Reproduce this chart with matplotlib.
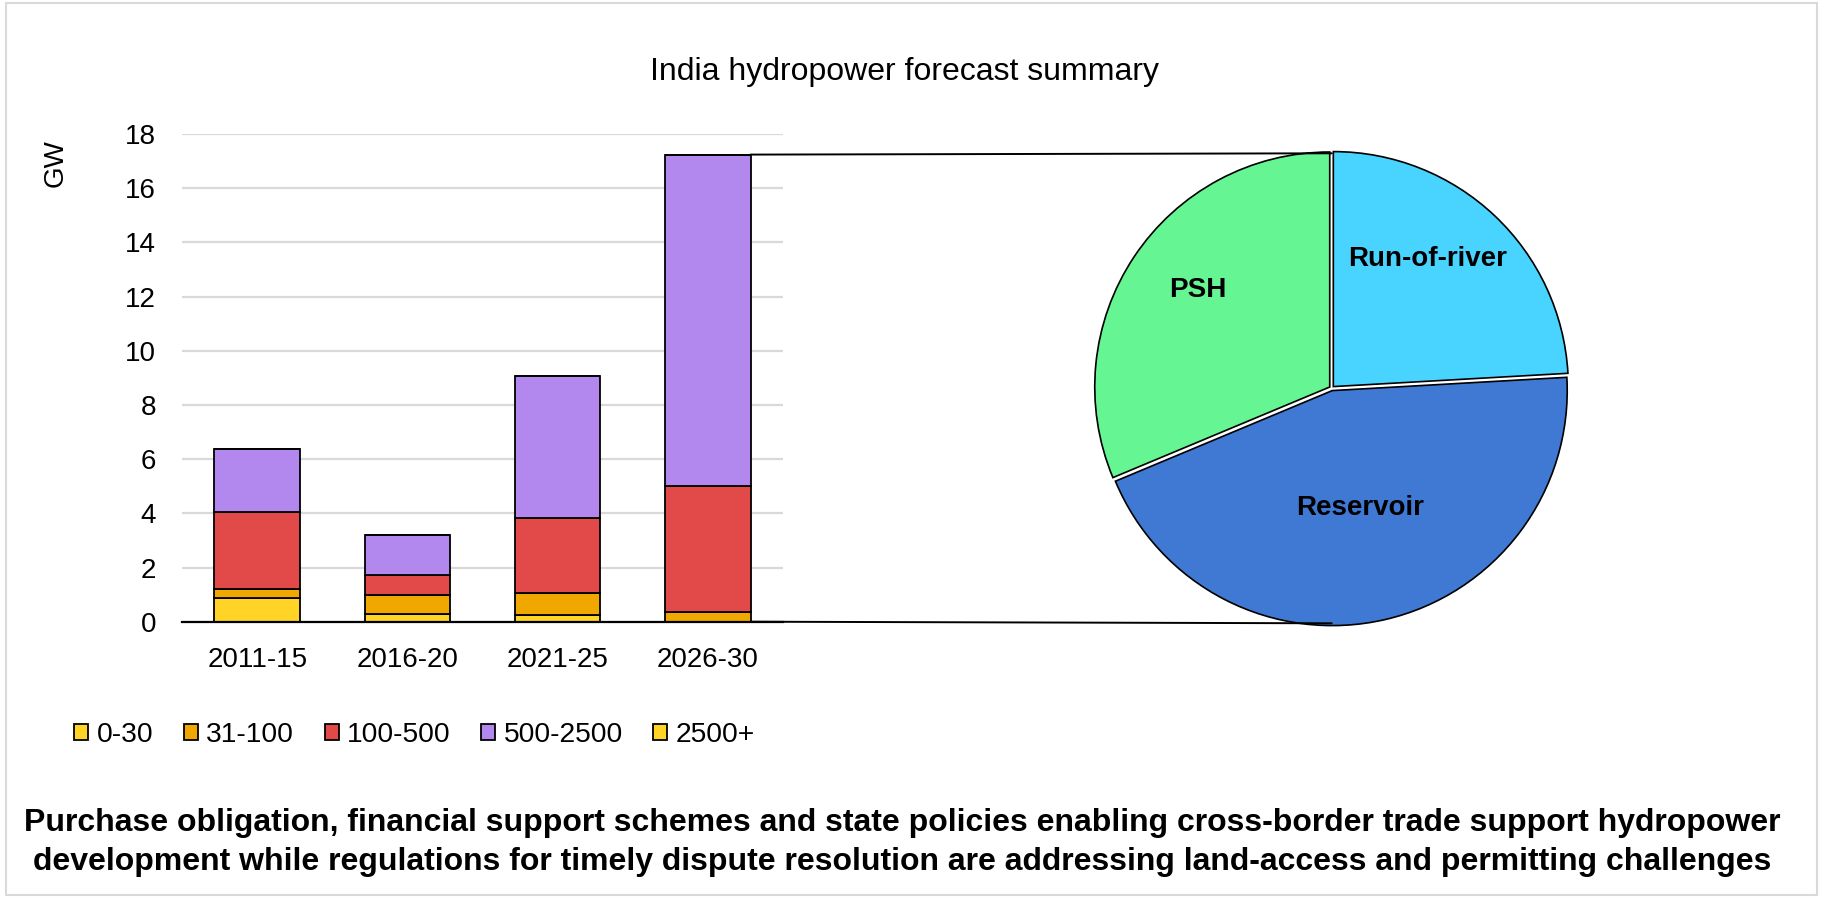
import matplotlib
matplotlib.use("Agg")
import matplotlib.pyplot as plt
from matplotlib.patches import ConnectionPatch, Rectangle

plt.rcParams['font.family'] = ['Liberation Sans', 'DejaVu Sans']

# bar data (GW)
categories = ['2011-15', '2016-20', '2021-25', '2026-30']
series_names = ['0-30', '31-100', '100-500', '500-2500', '2500+']
s_0_30 = [0.88, 0.28, 0.24, 0.0]
s_31_100 = [0.34, 0.72, 0.82, 0.35]
s_100_500 = [2.83, 0.72, 2.78, 4.67]
s_500_2500 = [2.32, 1.49, 5.21, 12.22]
s_2500 = [0.0, 0.0, 0.0, 0.0]
bar_colors = ['#FFD426', '#F0A800', '#E24A4A', '#B388EE', '#FFD426']

# pie data (share of 2026-30, %)
pie_labels = ['Run-of-river', 'Reservoir', 'PSH']
pie_values = [24.1, 44.6, 31.3]
pie_colors = ['#48D4FF', '#3F79D3', '#66F593']
pie_label_pos = [(0.41, 0.55), (0.12, -0.51), (-0.57, 0.42)]

title = 'India hydropower forecast summary'
footer = ['Purchase obligation, financial support schemes and state policies enabling cross-border trade support hydropower',
          'development while regulations for timely dispute resolution are addressing land-access and permitting challenges']

W, H = 1825, 898
fig = plt.figure(figsize=(W / 100, H / 100), dpi=100)

# bar chart
ax = fig.add_axes([182.3 / W, 1 - 621.7 / H, 600.4 / W, 487.7 / H])
x = list(range(len(categories)))
bw = 0.571
bottom = [0.0] * len(categories)
for name, vals, col in zip(series_names, [s_0_30, s_31_100, s_100_500, s_500_2500, s_2500], bar_colors):
    ax.bar(x, vals, bw, bottom=bottom, color=col, edgecolor='black', linewidth=1.3,
           label=name, zorder=3)
    bottom = [b + v for b, v in zip(bottom, vals)]

ax.set_xlim(-0.5, 3.5)
ax.set_ylim(0, 18)
ax.set_yticks(range(0, 19, 2))
ax.set_xticks(x)
ax.set_xticklabels(categories)
ax.tick_params(axis='both', length=0, labelsize=20)
ax.tick_params(axis='y', pad=19)
ax.tick_params(axis='x', pad=18)
ax.grid(axis='y', color='#D9D9D9', linewidth=1.6, zorder=0)
for s in ['top', 'right', 'left']:
    ax.spines[s].set_visible(False)
ax.spines['bottom'].set_linewidth(1.6)
ax.spines['bottom'].set_zorder(4)

fig.text(56 / W, 1 - 163 / H, 'GW', rotation=90, fontsize=20, ha='center', va='center')

# pie chart
r = 235
pax = fig.add_axes([(1331.7 - r) / W, 1 - (388.3 + r) / H, 2 * r / W, 2 * r / H])
wedges, _ = pax.pie(pie_values, colors=pie_colors, startangle=90, counterclock=False,
                    explode=[0.01, 0.01, 0.01],
                    wedgeprops=dict(edgecolor='black', linewidth=1.2))
for w in wedges:
    w.set_clip_on(False)
for lab, (lx, ly) in zip(pie_labels, pie_label_pos):
    pax.text(lx, ly, lab, fontsize=20, fontweight='bold', ha='center', va='center')
pax.set_xlim(-1, 1)
pax.set_ylim(-1, 1)
pax.set_aspect('auto')
pax.axis('off')

# lines joining the last bar to the pie
xr = 3 + bw / 2
total_last = bottom[-1]
for yb, yp in [(total_last, 1.0), (0.0, -1.0)]:
    con = ConnectionPatch(xyA=(xr, yb), coordsA=ax.transData,
                          xyB=(0.0, yp), coordsB=pax.transData,
                          color='black', linewidth=1.4)
    fig.add_artist(con)

# legend
fig.legend(loc='center left', bbox_to_anchor=(74 / W, 1 - 734.7 / H), ncol=5,
           frameon=False, fontsize=20.3, handlelength=0.5, handleheight=0.5,
           handletextpad=0.3, columnspacing=1.08, borderpad=0, borderaxespad=0)

fig.text(904 / W, 1 - 72 / H, title, fontsize=23, ha='center', va='center')
fig.text(902 / W, 1 - 823 / H, footer[0], fontsize=23, fontweight='bold', ha='center', va='center')
fig.text(902 / W, 1 - 862 / H, footer[1], fontsize=23, fontweight='bold', ha='center', va='center')

fig.add_artist(Rectangle((5.5 / W, 3 / H), 1811 / W, 892 / H, transform=fig.transFigure,
                         fill=False, edgecolor='#D9D9D9', linewidth=1.5))

fig.savefig('out.png', dpi=100)
